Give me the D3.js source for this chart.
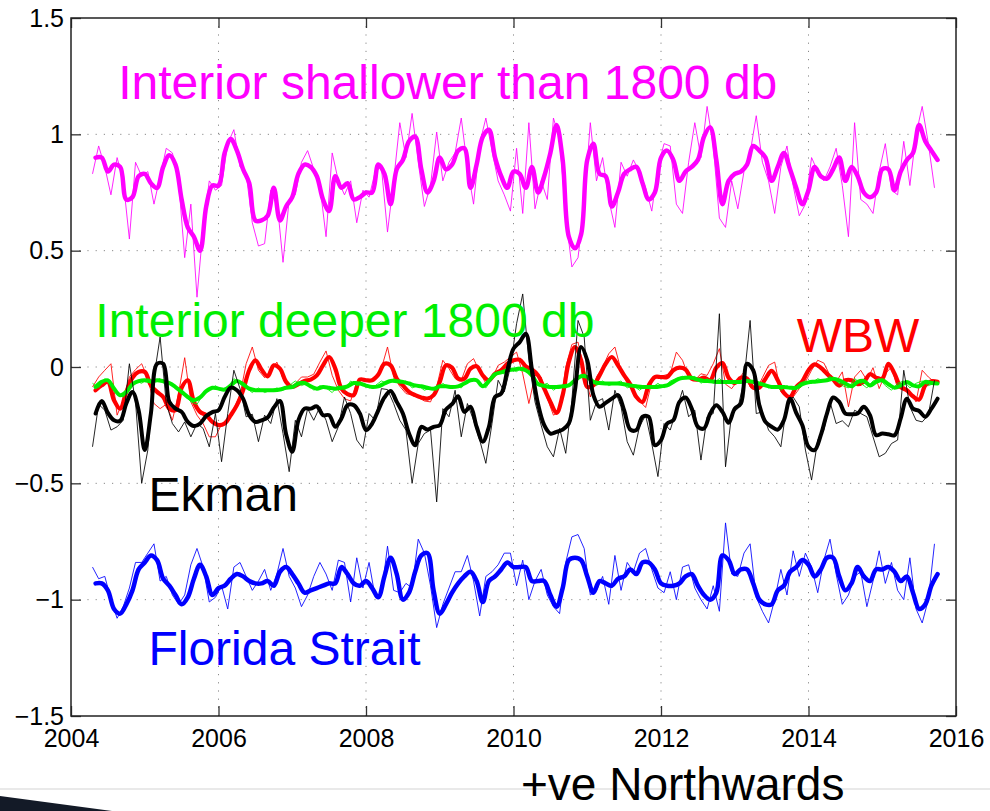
<!DOCTYPE html>
<html><head><meta charset="utf-8">
<script src="https://cdn.jsdelivr.net/npm/d3@7"></script>
<style>
html,body{margin:0;padding:0;background:#fff;}
svg{display:block;font-family:"Liberation Sans",Arial,Helvetica,sans-serif;}
</style></head><body>
<svg id="chart" width="990" height="811"></svg>
<script>
// ---- data (monthly samples) ----
const thickStart = 2004 + 4/12;      // smoothed series start (May 2004)
const thinStart = 2004 + 3.5/12;     // raw series start
const step = 1/12;
const xTicks = [2004, 2006, 2008, 2010, 2012, 2014, 2016];
const yTicks = [-1.5, -1, -0.5, 0, 0.5, 1, 1.5];

const shallowThick = [0.90,0.90,0.84,0.87,0.86,0.72,0.73,0.82,0.83,0.79,
0.77,0.86,0.91,0.87,0.72,0.60,0.56,0.50,0.69,0.78,
0.78,0.92,0.98,0.93,0.85,0.79,0.63,0.63,0.65,0.77,
0.63,0.69,0.73,0.83,0.87,0.86,0.82,0.72,0.67,0.82,
0.77,0.79,0.72,0.73,0.75,0.75,0.87,0.83,0.70,0.85,
0.89,0.97,0.99,0.85,0.75,0.80,0.90,0.85,0.87,0.93,
0.94,0.77,0.87,0.99,1.02,0.90,0.82,0.77,0.84,0.83,
0.77,0.86,0.75,0.82,0.92,1.04,0.89,0.56,0.51,0.57,
0.89,0.96,0.83,0.82,0.69,0.75,0.83,0.85,0.86,0.79,
0.72,0.75,0.90,0.93,0.89,0.80,0.84,0.86,0.89,0.99,
1.03,0.89,0.70,0.80,0.83,0.84,0.87,0.95,0.93,0.90,
0.80,0.86,0.92,0.85,0.77,0.70,0.76,0.86,0.82,0.81,
0.85,0.90,0.80,0.86,0.82,0.75,0.73,0.75,0.85,0.85,
0.76,0.84,0.89,0.92,1.04,0.97,0.93,0.89];
const shallowRaw = [0.83,0.95,0.86,0.74,0.90,0.80,0.55,0.88,0.82,0.84,
0.70,0.82,0.94,0.92,0.80,0.47,0.70,0.30,0.60,0.80,
0.76,0.78,0.96,1.02,0.86,0.83,0.62,0.52,0.53,0.76,
0.72,0.45,0.72,0.74,0.88,0.93,0.85,0.78,0.56,0.92,
0.80,0.74,0.80,0.62,0.76,0.73,0.84,0.86,0.58,0.80,
1.05,0.90,1.09,0.88,0.69,0.78,1.01,0.80,0.88,0.92,
1.07,0.86,0.70,0.96,1.07,0.93,0.80,0.74,0.67,0.94,
0.66,1.05,0.68,0.80,0.72,1.07,0.98,0.65,0.43,0.47,
0.70,1.05,0.80,0.90,0.72,0.60,0.88,0.82,0.89,0.84,
0.77,0.67,0.86,0.96,0.95,0.70,0.66,0.88,1.05,0.90,
1.12,0.95,0.64,0.60,0.80,0.68,0.84,0.92,1.08,0.88,
0.80,0.66,0.86,0.95,0.78,0.65,0.70,0.90,0.84,0.80,
0.86,0.94,0.78,0.56,1.05,0.72,0.70,0.66,0.84,0.96,
0.76,0.74,0.97,0.78,1.00,1.12,0.96,0.77];

const floridaThick = [-0.93,-0.93,-0.96,-1.04,-1.06,-1.02,-0.96,-0.87,-0.84,-0.81,
-0.83,-0.91,-0.94,-0.98,-1.02,-0.99,-0.91,-0.85,-0.90,-0.98,
-0.95,-0.94,-0.91,-0.89,-0.90,-0.92,-0.93,-0.93,-0.92,-0.94,
-0.88,-0.86,-0.89,-0.93,-0.97,-0.96,-0.95,-0.94,-0.93,-0.93,
-0.86,-0.89,-0.93,-0.94,-0.92,-0.95,-0.99,-0.90,-0.82,-0.89,
-1.00,-0.97,-0.88,-0.81,-0.80,-0.96,-1.06,-1.02,-0.97,-0.93,
-0.90,-0.88,-0.92,-1.01,-0.92,-0.90,-0.87,-0.84,-0.86,-0.86,
-0.86,-0.92,-0.92,-0.92,-0.98,-1.03,-0.95,-0.83,-0.82,-0.83,
-0.90,-0.97,-0.92,-0.93,-0.94,-0.91,-0.90,-0.87,-0.89,-0.84,
-0.84,-0.87,-0.93,-0.94,-0.94,-0.93,-0.90,-0.89,-0.94,-0.98,
-1.00,-0.97,-0.81,-0.83,-0.89,-0.87,-0.87,-0.93,-1.00,-1.02,
-1.02,-0.96,-0.94,-0.88,-0.86,-0.83,-0.85,-0.90,-0.87,-0.82,
-0.82,-0.90,-0.96,-0.93,-0.86,-0.90,-0.92,-0.87,-0.87,-0.86,
-0.88,-0.92,-0.90,-0.97,-1.04,-1.02,-0.94,-0.89];
const floridaRaw = [-0.86,-0.91,-0.90,-1.00,-1.08,-1.03,-0.95,-0.84,-0.84,-0.80,
-0.76,-0.92,-0.90,-0.98,-1.02,-0.98,-0.85,-0.78,-0.86,-1.01,
-0.99,-0.94,-1.04,-0.86,-0.84,-0.90,-0.96,-0.92,-0.87,-0.96,
-0.89,-0.78,-0.90,-0.95,-1.03,-0.98,-0.90,-0.84,-0.89,-0.96,
-0.83,-0.84,-1.01,-0.82,-0.95,-0.84,-0.99,-0.98,-0.77,-0.96,
-0.97,-0.93,-0.95,-0.74,-0.80,-0.94,-1.12,-1.02,-0.95,-0.88,
-0.88,-0.81,-0.92,-1.07,-0.90,-0.88,-0.85,-0.80,-0.80,-0.94,
-0.83,-1.00,-0.92,-0.87,-0.98,-1.03,-1.06,-0.84,-0.73,-0.72,
-0.78,-0.98,-0.96,-0.90,-1.02,-0.81,-0.96,-0.84,-0.88,-0.80,
-0.78,-0.87,-0.95,-0.97,-0.88,-1.00,-0.86,-0.85,-0.95,-1.00,
-1.04,-0.94,-1.05,-0.67,-0.89,-0.90,-0.80,-0.76,-0.99,-1.05,
-1.10,-1.00,-0.87,-0.98,-0.79,-0.90,-0.80,-0.86,-0.97,-0.83,
-0.74,-0.89,-1.02,-0.98,-0.90,-0.88,-1.03,-0.92,-0.79,-0.93,
-0.84,-0.96,-1.00,-0.82,-1.04,-1.10,-1.00,-0.76];

const wbwThick = [-0.100,-0.079,-0.064,-0.143,-0.179,-0.107,-0.046,-0.021,-0.021,-0.079,
-0.107,-0.129,-0.179,-0.186,-0.089,-0.057,-0.150,-0.193,-0.207,-0.236,
-0.250,-0.243,-0.207,-0.164,-0.100,-0.014,0.029,-0.011,-0.040,0.007,
-0.007,-0.064,-0.086,-0.074,-0.060,-0.054,-0.036,0.007,0.043,-0.007,
-0.093,-0.117,-0.121,-0.054,-0.057,-0.057,-0.033,0.014,0.007,-0.050,
-0.079,-0.107,-0.121,-0.131,-0.136,-0.121,-0.064,0.007,-0.003,-0.050,
-0.050,-0.007,0.003,-0.036,-0.057,-0.029,-0.014,0.014,0.029,0.031,
0.003,-0.011,-0.036,-0.093,-0.150,-0.197,-0.121,0.021,0.086,0.029,
-0.086,-0.079,-0.036,0.014,0.043,0.007,-0.036,-0.074,-0.129,-0.150,
-0.079,-0.043,-0.043,-0.043,-0.014,-0.003,-0.011,-0.050,-0.054,-0.046,
-0.057,-0.003,0.017,-0.046,-0.069,-0.046,-0.050,-0.089,-0.089,-0.050,
-0.017,-0.057,-0.111,-0.129,-0.086,-0.061,-0.014,0.011,-0.003,-0.029,
-0.054,-0.080,-0.057,-0.057,-0.074,-0.064,-0.031,-0.046,-0.050,0.014,
-0.029,-0.086,-0.100,-0.126,-0.140,-0.079,-0.061,-0.064];
const wbwRaw = [-0.086,-0.043,-0.014,0.014,-0.207,-0.143,-0.043,-0.011,0.014,-0.050,
-0.157,-0.179,-0.160,-0.229,-0.114,0.040,-0.150,-0.207,-0.243,-0.300,
-0.300,-0.246,-0.229,-0.179,-0.121,0.014,0.086,-0.014,-0.046,-0.014,
0.021,-0.050,-0.093,-0.071,-0.043,-0.043,-0.031,0.021,0.069,-0.036,
-0.100,-0.136,-0.146,-0.064,-0.050,-0.064,-0.046,-0.007,0.086,-0.043,
-0.083,-0.114,-0.121,-0.131,-0.146,-0.150,-0.086,0.029,-0.007,-0.050,
-0.057,0.014,0.036,-0.021,-0.071,-0.050,0.007,0.021,0.043,0.064,
-0.029,-0.157,-0.036,-0.043,-0.136,-0.207,-0.193,0.000,0.097,0.107,
-0.014,-0.129,-0.043,0.000,0.057,0.086,-0.014,-0.071,-0.107,-0.146,
-0.174,-0.064,-0.040,-0.036,-0.029,0.064,0.029,-0.043,-0.057,-0.029,
-0.036,0.014,0.079,-0.074,-0.093,-0.057,-0.021,-0.086,-0.100,-0.046,
0.007,0.021,-0.107,-0.129,-0.129,-0.093,-0.064,-0.014,0.029,0.017,
-0.036,-0.064,-0.021,-0.171,-0.043,-0.014,-0.057,-0.003,-0.093,-0.029,
0.000,-0.093,-0.083,-0.107,-0.150,-0.014,-0.043,-0.064];

const ekmanThick = [-0.200,-0.146,-0.197,-0.229,-0.231,-0.157,-0.107,-0.186,-0.357,-0.200,
0.014,0.014,-0.150,-0.179,-0.193,-0.236,-0.254,-0.243,-0.211,-0.194,
-0.186,-0.129,-0.089,-0.100,-0.136,-0.207,-0.236,-0.229,-0.217,-0.174,
-0.146,-0.289,-0.364,-0.229,-0.179,-0.179,-0.169,-0.207,-0.207,-0.257,
-0.221,-0.164,-0.164,-0.200,-0.271,-0.243,-0.186,-0.131,-0.103,-0.150,
-0.200,-0.286,-0.336,-0.257,-0.269,-0.257,-0.250,-0.183,-0.160,-0.126,
-0.193,-0.171,-0.257,-0.321,-0.257,-0.129,-0.114,-0.014,0.079,0.107,
0.143,-0.011,-0.160,-0.250,-0.286,-0.279,-0.269,-0.243,-0.100,0.086,
0.029,-0.121,-0.171,-0.154,-0.136,-0.121,-0.186,-0.269,-0.271,-0.214,
-0.214,-0.336,-0.314,-0.243,-0.229,-0.150,-0.131,-0.179,-0.257,-0.264,
-0.200,-0.164,-0.193,-0.240,-0.179,-0.157,0.014,-0.014,-0.164,-0.236,
-0.257,-0.269,-0.229,-0.136,-0.197,-0.250,-0.343,-0.357,-0.293,-0.200,
-0.131,-0.150,-0.200,-0.203,-0.200,-0.171,-0.207,-0.293,-0.286,-0.289,
-0.293,-0.221,-0.136,-0.179,-0.189,-0.214,-0.179,-0.136];
const ekmanRaw = [-0.343,-0.160,-0.186,-0.271,-0.257,-0.229,0.014,-0.150,-0.500,-0.357,
-0.043,0.129,-0.157,-0.243,-0.279,-0.236,-0.300,-0.243,-0.264,-0.343,
-0.200,-0.407,-0.200,-0.014,-0.093,-0.214,-0.203,-0.321,-0.207,-0.243,
-0.136,-0.286,-0.450,-0.229,-0.300,-0.179,-0.229,-0.171,-0.229,-0.321,
-0.257,-0.129,-0.200,-0.314,-0.350,-0.200,-0.229,-0.093,-0.097,-0.157,
-0.229,-0.271,-0.500,-0.329,-0.286,-0.271,-0.580,-0.179,-0.214,-0.100,
-0.300,-0.157,-0.229,-0.314,-0.414,-0.243,-0.057,-0.107,0.000,0.186,
0.314,0.029,-0.150,-0.250,-0.343,-0.386,-0.264,-0.371,-0.143,0.200,
0.129,-0.229,-0.150,-0.136,-0.271,-0.100,-0.171,-0.321,-0.379,-0.257,
-0.207,-0.329,-0.471,-0.243,-0.271,-0.186,-0.100,-0.214,-0.186,-0.400,
-0.214,-0.200,0.229,-0.429,-0.200,-0.179,-0.057,0.200,-0.200,-0.193,
-0.271,-0.300,-0.343,-0.157,-0.129,-0.171,-0.357,-0.486,-0.314,-0.271,
-0.150,-0.243,-0.231,-0.257,-0.186,-0.200,-0.214,-0.300,-0.386,-0.371,
-0.329,-0.314,-0.014,-0.171,-0.229,-0.236,-0.207,-0.057];

const deepThick = [-0.086,-0.064,-0.057,-0.093,-0.121,-0.107,-0.074,-0.061,-0.057,-0.063,
-0.057,-0.061,-0.069,-0.086,-0.107,-0.129,-0.143,-0.131,-0.104,-0.089,
-0.093,-0.097,-0.079,-0.060,-0.074,-0.093,-0.100,-0.100,-0.100,-0.100,
-0.097,-0.089,-0.086,-0.071,-0.069,-0.083,-0.093,-0.086,-0.089,-0.093,
-0.089,-0.083,-0.069,-0.071,-0.080,-0.086,-0.083,-0.071,-0.060,-0.061,
-0.064,-0.071,-0.079,-0.083,-0.089,-0.093,-0.083,-0.083,-0.086,-0.083,
-0.071,-0.057,-0.057,-0.083,-0.060,-0.031,-0.023,-0.014,-0.011,-0.007,
-0.014,-0.036,-0.074,-0.081,-0.086,-0.086,-0.083,-0.079,-0.057,-0.040,
-0.043,-0.064,-0.069,-0.071,-0.071,-0.071,-0.074,-0.079,-0.083,-0.086,
-0.086,-0.086,-0.083,-0.079,-0.064,-0.050,-0.046,-0.046,-0.054,-0.060,
-0.061,-0.064,-0.064,-0.064,-0.064,-0.064,-0.060,-0.064,-0.071,-0.079,
-0.086,-0.086,-0.086,-0.089,-0.089,-0.074,-0.066,-0.063,-0.060,-0.057,
-0.051,-0.057,-0.071,-0.083,-0.064,-0.060,-0.079,-0.064,-0.057,-0.074,
-0.089,-0.079,-0.064,-0.079,-0.083,-0.064,-0.069,-0.071];
const deepRaw = [-0.07,-0.09,-0.05,-0.07,-0.11,-0.13,-0.09,-0.06,-0.07,-0.05,
-0.06,-0.05,-0.08,-0.07,-0.10,-0.12,-0.15,-0.16,-0.12,-0.10,
-0.08,-0.10,-0.09,-0.05,-0.07,-0.09,-0.11,-0.09,-0.11,-0.10,
-0.09,-0.10,-0.08,-0.06,-0.08,-0.07,-0.10,-0.08,-0.09,-0.11,
-0.08,-0.10,-0.06,-0.08,-0.07,-0.09,-0.08,-0.06,-0.07,-0.05,
-0.07,-0.06,-0.09,-0.08,-0.10,-0.09,-0.10,-0.07,-0.09,-0.08,
-0.09,-0.06,-0.05,-0.07,-0.09,-0.05,-0.02,-0.03,-0.01,-0.02,
0.00,-0.02,-0.06,-0.08,-0.07,-0.10,-0.08,-0.09,-0.07,-0.04,
-0.03,-0.05,-0.08,-0.06,-0.08,-0.07,-0.06,-0.09,-0.08,-0.10,
-0.08,-0.09,-0.07,-0.09,-0.06,-0.05,-0.04,-0.05,-0.04,-0.07,
-0.05,-0.07,-0.05,-0.07,-0.06,-0.07,-0.05,-0.06,-0.08,-0.07,
-0.09,-0.08,-0.10,-0.08,-0.10,-0.07,-0.06,-0.07,-0.05,-0.06,
-0.04,-0.06,-0.08,-0.09,-0.05,-0.07,-0.09,-0.06,-0.05,-0.08,
-0.10,-0.07,-0.06,-0.09,-0.07,-0.06,-0.08,-0.07];

const labels = [
  {text:"Interior shallower than 1800 db", color:"#ff00ff", x:2004.64, y:1.15},
  {text:"Interior deeper 1800 db", color:"#00ee00", x:2004.33, y:0.128},
  {text:"WBW", color:"#ff0000", x:2013.84, y:0.064},
  {text:"Ekman", color:"#000000", x:2005.05, y:-0.62},
  {text:"Florida Strait", color:"#0000ff", x:2005.05, y:-1.28}
];

// ---- layout ----
const svg = d3.select("#chart");
const L = 71, R = 956, T = 18, B = 716;
const x = d3.scaleLinear().domain([2004, 2016]).range([L, R]);
const y = d3.scaleLinear().domain([-1.5, 1.5]).range([B, T]);

// page decorations
svg.append("line").attr("x1",0).attr("x2",990).attr("y1",789).attr("y2",789)
  .attr("stroke","#e9e9e9").attr("stroke-width",2);
svg.append("path").attr("d","M0,796 L112,811 L0,811 Z").attr("fill","#131a27");

// grid
const grid = svg.append("g");
grid.selectAll(".gx").data(xTicks.slice(1,-1)).join("line")
  .attr("x1", d=>x(d)).attr("x2", d=>x(d)).attr("y1", T).attr("y2", B)
  .attr("stroke","#8a8a8a").attr("stroke-width",1).attr("stroke-dasharray","1.2,7");
grid.selectAll(".gy").data(yTicks.slice(1,-1)).join("line")
  .attr("x1", L).attr("x2", R).attr("y1", d=>y(d)).attr("y2", d=>y(d))
  .attr("stroke","#8a8a8a").attr("stroke-width",1).attr("stroke-dasharray","1.2,7");

// series
const plot = svg.append("g");
function drawSeries(raw, thick, color, thickW){
  const rawPts = raw.map((v,i)=>[thinStart + i*step, v]);
  const thPts = thick.map((v,i)=>[thickStart + i*step, v]);
  plot.append("path").datum(rawPts)
    .attr("d", d3.line().x(d=>x(d[0])).y(d=>y(d[1])))
    .attr("fill","none").attr("stroke",color).attr("stroke-width",1).attr("stroke-opacity",0.85);
  plot.append("path").datum(thPts)
    .attr("d", d3.line().curve(d3.curveCatmullRom.alpha(0.5)).x(d=>x(d[0])).y(d=>y(d[1])))
    .attr("fill","none").attr("stroke",color).attr("stroke-width",thickW)
    .attr("stroke-linejoin","round").attr("stroke-linecap","round");
}
drawSeries(shallowRaw, shallowThick, "#ff00ff", 4.5);
drawSeries(floridaRaw, floridaThick, "#0000ff", 4.5);
drawSeries(wbwRaw, wbwThick, "#ff0000", 4.2);
drawSeries(deepRaw, deepThick, "#00ee00", 4);
drawSeries(ekmanRaw, ekmanThick, "#000000", 4);

// axes
const fmt = d3.format("~g");
const tl = 10;
const ax = svg.append("g");
const gL = ax.append("g").attr("transform",`translate(${L},0)`)
  .call(d3.axisLeft(y).tickValues(yTicks).tickFormat(fmt).tickSize(-tl).tickPadding(7));
const gB = ax.append("g").attr("transform",`translate(0,${B})`)
  .call(d3.axisBottom(x).tickValues(xTicks).tickFormat(d3.format("d")).tickSize(-tl).tickPadding(13));
const gR = ax.append("g").attr("transform",`translate(${R},0)`)
  .call(d3.axisRight(y).tickValues(yTicks).tickFormat("").tickSize(-tl));
const gT = ax.append("g").attr("transform",`translate(0,${T})`)
  .call(d3.axisTop(x).tickValues(xTicks).tickFormat("").tickSize(-tl));
[gL,gB,gR,gT].forEach(g=>{
  g.attr("font-size", 25).attr("font-family","'Liberation Sans',Arial,Helvetica,sans-serif");
  g.select(".domain").remove();
  g.selectAll(".tick line").attr("stroke","#333").attr("stroke-width",1.3);
  g.selectAll("text").attr("fill","#000");
});
svg.append("rect").attr("x",L).attr("y",T).attr("width",R-L).attr("height",B-T)
  .attr("fill","none").attr("stroke","#222").attr("stroke-width",1.5);

// series labels
svg.append("g").selectAll("text").data(labels).join("text")
  .attr("x", d=>x(d.x)).attr("y", d=>y(d.y))
  .attr("fill", d=>d.color).attr("font-size", 48)
  .text(d=>d.text);

// footer text
svg.append("text").attr("x",521).attr("y",800).attr("font-size",46).attr("fill","#000")
  .text("+ve Northwards");
</script>
</body></html>
